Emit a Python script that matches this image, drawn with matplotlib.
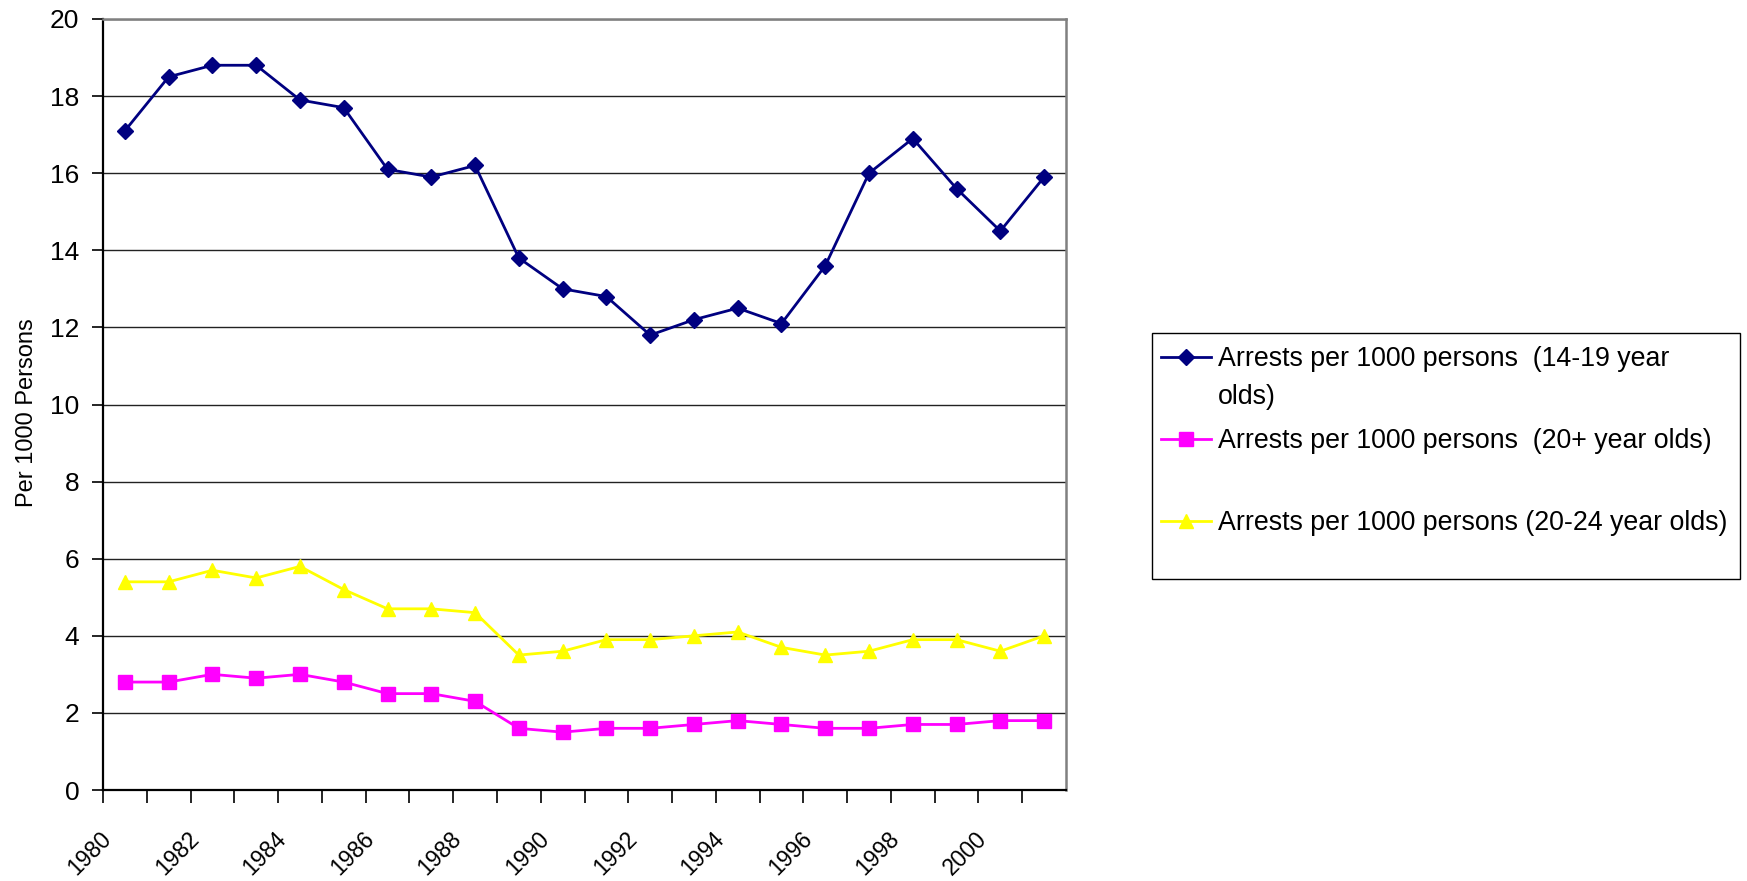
import numpy as np
import matplotlib
matplotlib.use("Agg")
import matplotlib.pyplot as plt
from matplotlib.lines import Line2D
from matplotlib.patches import Rectangle
from matplotlib.transforms import ScaledTranslation

plt.rcParams["font.family"] = ["Liberation Sans", "DejaVu Sans"]

years = list(range(1980, 2002))
arrests_14_19 = [17.1, 18.5, 18.8, 18.8, 17.9, 17.7, 16.1, 15.9, 16.2, 13.8, 13.0,
                 12.8, 11.8, 12.2, 12.5, 12.1, 13.6, 16.0, 16.9, 15.6, 14.5, 15.9]
arrests_20_plus = [2.8, 2.8, 3.0, 2.9, 3.0, 2.8, 2.5, 2.5, 2.3, 1.6, 1.5,
                   1.6, 1.6, 1.7, 1.8, 1.7, 1.6, 1.6, 1.7, 1.7, 1.8, 1.8]
arrests_20_24 = [5.4, 5.4, 5.7, 5.5, 5.8, 5.2, 4.7, 4.7, 4.6, 3.5, 3.6,
                 3.9, 3.9, 4.0, 4.1, 3.7, 3.5, 3.6, 3.9, 3.9, 3.6, 4.0]
labels = [
    ["Arrests per 1000 persons  (14-19 year", "olds)"],
    ["Arrests per 1000 persons  (20+ year olds)"],
    ["Arrests per 1000 persons (20-24 year olds)"],
]
colors = ["#000080", "#FF00FF", "#FFFF00"]
markers = ["D", "s", "^"]
msizes = [8.5, 10, 10]

W, H = 1747, 881
fig = plt.figure(figsize=(W / 100, H / 100), dpi=100)
ax = fig.add_axes([103 / W, (H - 790) / H, (1066 - 103) / W, (790 - 19) / H])

# categories sit between tick marks, Excel style
x = np.arange(len(years)) + 0.5
series = [arrests_14_19, arrests_20_plus, arrests_20_24]
for vals, c, m, ms in zip(series, colors, markers, msizes):
    ax.plot(x, vals, color=c, lw=2, marker=m, ms=ms, mec=c, mfc=c, zorder=3)

ax.set_xlim(0, len(years))
ax.set_ylim(0, 20)
ax.set_yticks(np.arange(0, 21, 2))
ax.yaxis.grid(True, color="#222222", lw=1)
ax.set_axisbelow(True)

ax.set_xticks(np.arange(0, len(years), 2))
ax.set_xticklabels([str(y) for y in years[::2]], rotation=45, ha="right",
                   va="center", rotation_mode="anchor")
ax.set_xticks(np.arange(1, len(years) + 1, 2), minor=True)
ax.tick_params(axis="x", which="both", direction="out", length=9, width=1.2,
               color="black", labelsize=16.5, pad=24)
ax.tick_params(axis="y", direction="out", length=8, width=1.2, color="black",
               labelsize=19, pad=9)
shift = ScaledTranslation(5 / 100, 0, fig.dpi_scale_trans)
for lab in ax.get_xticklabels():
    lab.set_transform(lab.get_transform() + shift)

ax.spines["left"].set_color("black")
ax.spines["left"].set_linewidth(1.6)
ax.spines["bottom"].set_color("black")
ax.spines["bottom"].set_linewidth(1.6)
ax.spines["top"].set_color("#808080")
ax.spines["top"].set_linewidth(1.8)
ax.spines["right"].set_color("#808080")
ax.spines["right"].set_linewidth(1.8)

ax.set_ylabel("Per 1000 Persons", fontsize=17)
ax.yaxis.set_label_coords(-0.068, 0.49)

# legend box drawn in figure pixels
def fx(px):
    return px / W

def fy(py):
    return 1 - py / H

fig.add_artist(Rectangle((fx(1152), fy(579)), fx(1740) - fx(1152), fy(333) - fy(579),
                         transform=fig.transFigure, fill=False, ec="black", lw=1))
handle_y = [357, 439, 521]
base_y = [[366, 404.5], [448], [530]]
for c, m, ms, hy, lines, bys in zip(colors, markers, msizes, handle_y, labels, base_y):
    fig.add_artist(Line2D([fx(1161), fx(1211)], [fy(hy), fy(hy)], transform=fig.transFigure,
                          color=c, lw=2))
    fig.add_artist(Line2D([fx(1186)], [fy(hy)], transform=fig.transFigure, color=c,
                          marker=m, ms=ms, mec=c, mfc=c, lw=0))
    for txt, by in zip(lines, bys):
        fig.text(fx(1218), fy(by), txt, ha="left", va="baseline", fontsize=19.3)

fig.savefig("out.png", dpi=100)
